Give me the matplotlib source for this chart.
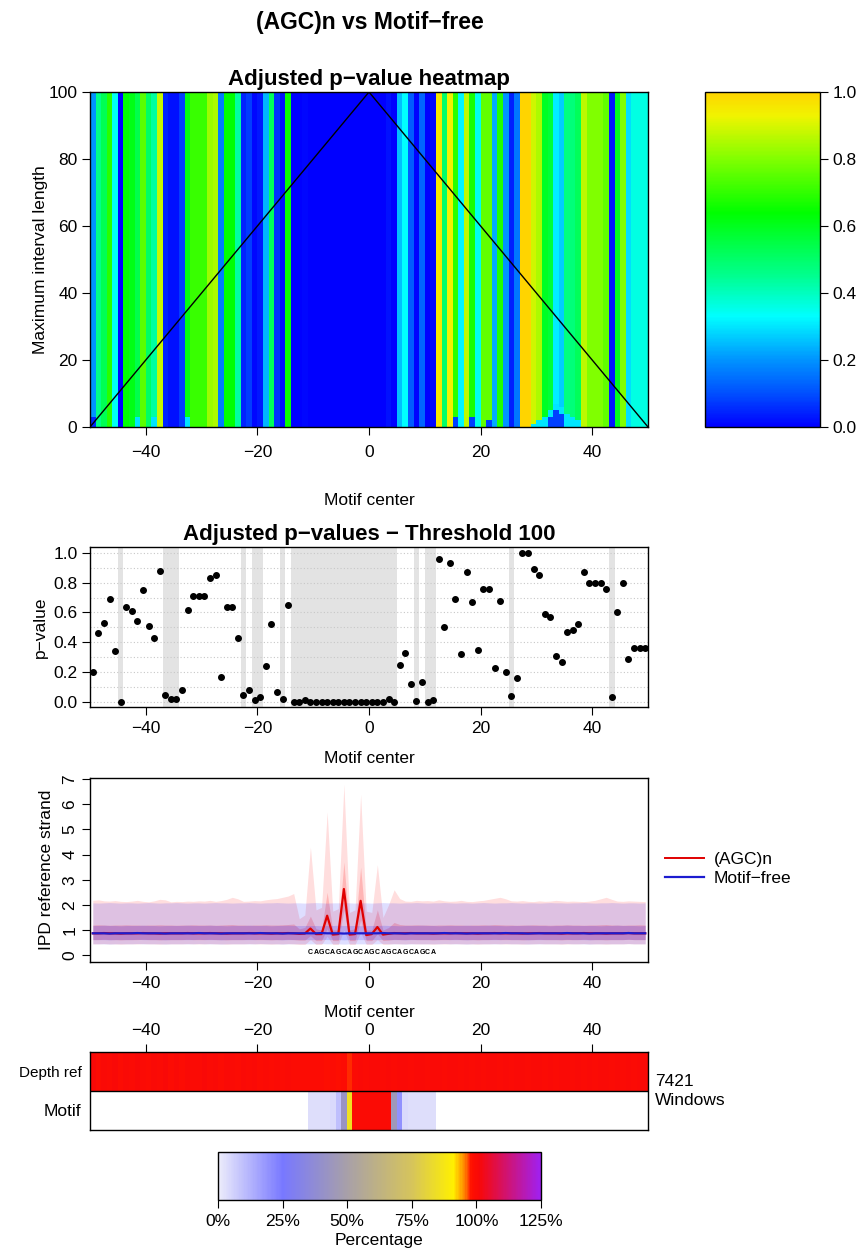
import numpy as np
import matplotlib
matplotlib.use('Agg')
import matplotlib.pyplot as plt
from matplotlib.colors import LinearSegmentedColormap
from matplotlib.lines import Line2D

# ---- DATA ----
# adjusted p-value per motif-center offset, threshold 100 (offsets -49.5 .. 49.5)
pvals = [
    0.20, 0.46, 0.53, 0.69, 0.34, 0.00, 0.64, 0.61, 0.54, 0.75,
    0.51, 0.43, 0.88, 0.045, 0.02, 0.02, 0.076, 0.62, 0.71, 0.71,
    0.71, 0.83, 0.85, 0.165, 0.64, 0.64, 0.43, 0.045, 0.076, 0.01,
    0.03, 0.24, 0.52, 0.065, 0.02, 0.65, 0.00, 0.00, 0.01, 0.00,
    0.00, 0.00, 0.00, 0.00, 0.00, 0.00, 0.00, 0.00, 0.00, 0.00,
    0.00, 0.00, 0.00, 0.02, 0.00, 0.25, 0.33, 0.12, 0.007, 0.13,
    0.00, 0.01, 0.96, 0.50, 0.93, 0.69, 0.32, 0.87, 0.67, 0.35,
    0.76, 0.76, 0.23, 0.68, 0.20, 0.04, 0.16, 1.00, 1.00, 0.89,
    0.85, 0.59, 0.57, 0.31, 0.27, 0.47, 0.48, 0.52, 0.87, 0.80,
    0.80, 0.80, 0.76, 0.03, 0.60, 0.80, 0.29, 0.36, 0.36, 0.36,
]

# short max-interval lengths where the p-value differs from the long ones
low_cols = [0, 8, 11, 17, 65, 68, 71, 79, 80, 81, 82, 83, 84, 85, 86, 87, 82, 83, 84]
low_rows = [3, 3, 3, 3, 3, 3, 2, 1, 2, 3, 5, 7, 6, 4, 3, 2, 3, 5, 4]
low_vals = [0.05, 0.30, 0.30, 0.30, 0.08, 0.08, 0.08, 0.30, 0.30, 0.30, 0.30,
            0.30, 0.30, 0.30, 0.30, 0.30, 0.08, 0.08, 0.08]

# IPD reference strand, (AGC)n windows
agc_hi = [
    2.18, 2.20, 2.16, 2.15, 2.17, 2.14, 2.13, 2.15, 2.18, 2.14,
    2.12, 2.16, 2.22, 2.20, 2.12, 2.14, 2.13, 2.15, 2.14, 2.16,
    2.15, 2.18, 2.14, 2.17, 2.22, 2.30, 2.24, 2.14, 2.15, 2.17,
    2.16, 2.20, 2.23, 2.25, 2.30, 2.35, 2.45, 1.45, 1.60, 4.30,
    1.80, 1.90, 5.70, 1.75, 1.85, 6.80, 1.70, 1.80, 6.40, 1.75,
    1.70, 3.60, 1.50, 2.00, 2.60, 2.25, 2.15, 2.14, 2.18, 2.16,
    2.17, 2.15, 2.20, 2.16, 2.14, 2.15, 2.18, 2.14, 2.13, 2.16,
    2.18, 2.22, 2.26, 2.30, 2.24, 2.16, 2.15, 2.17, 2.14, 2.13,
    2.16, 2.14, 2.15, 2.18, 2.16, 2.14, 2.15, 2.14, 2.13, 2.15,
    2.18, 2.24, 2.30, 2.22, 2.15, 2.14, 2.16, 2.15, 2.14, 2.13,
]
agc_q3 = [
    1.20, 1.21, 1.20, 1.19, 1.20, 1.20, 1.21, 1.20, 1.20, 1.19,
    1.20, 1.20, 1.21, 1.20, 1.20, 1.19, 1.20, 1.20, 1.21, 1.20,
    1.20, 1.20, 1.19, 1.20, 1.21, 1.22, 1.20, 1.20, 1.19, 1.20,
    1.20, 1.21, 1.20, 1.20, 1.21, 1.22, 1.24, 1.05, 1.10, 1.55,
    1.05, 1.00, 2.50, 1.00, 1.00, 3.70, 1.00, 1.05, 3.50, 1.00,
    1.00, 1.80, 1.00, 1.10, 1.30, 1.22, 1.20, 1.20, 1.21, 1.20,
    1.20, 1.19, 1.20, 1.20, 1.21, 1.20, 1.20, 1.19, 1.20, 1.20,
    1.21, 1.20, 1.22, 1.21, 1.20, 1.20, 1.19, 1.20, 1.20, 1.21,
    1.20, 1.20, 1.19, 1.20, 1.20, 1.21, 1.20, 1.20, 1.19, 1.20,
    1.20, 1.21, 1.22, 1.20, 1.20, 1.19, 1.20, 1.20, 1.21, 1.20,
]
agc_med = [
    0.87, 0.87, 0.88, 0.87, 0.87, 0.86, 0.87, 0.87, 0.87, 0.88,
    0.87, 0.87, 0.86, 0.87, 0.87, 0.87, 0.87, 0.88, 0.87, 0.87,
    0.87, 0.88, 0.87, 0.87, 0.86, 0.87, 0.87, 0.87, 0.88, 0.87,
    0.87, 0.87, 0.86, 0.87, 0.87, 0.88, 0.87, 0.85, 0.86, 1.06,
    0.84, 0.84, 1.57, 0.82, 0.84, 2.63, 0.82, 0.84, 2.16, 0.80,
    0.84, 1.12, 0.82, 0.85, 0.88, 0.87, 0.87, 0.88, 0.87, 0.87,
    0.87, 0.86, 0.87, 0.87, 0.87, 0.88, 0.87, 0.87, 0.87, 0.86,
    0.87, 0.87, 0.88, 0.87, 0.87, 0.87, 0.87, 0.86, 0.87, 0.87,
    0.88, 0.87, 0.87, 0.87, 0.86, 0.87, 0.87, 0.87, 0.88, 0.87,
    0.87, 0.87, 0.86, 0.87, 0.87, 0.87, 0.88, 0.87, 0.87, 0.87,
]
agc_q1 = [
    0.62, 0.62, 0.63, 0.62, 0.62, 0.61, 0.62, 0.62, 0.62, 0.63,
    0.62, 0.62, 0.61, 0.62, 0.62, 0.62, 0.62, 0.63, 0.62, 0.62,
    0.62, 0.63, 0.62, 0.62, 0.61, 0.62, 0.62, 0.62, 0.63, 0.62,
    0.62, 0.62, 0.61, 0.62, 0.62, 0.63, 0.62, 0.60, 0.60, 0.78,
    0.58, 0.58, 1.05, 0.58, 0.58, 1.80, 0.58, 0.58, 1.40, 0.58,
    0.58, 0.85, 0.58, 0.60, 0.63, 0.62, 0.62, 0.63, 0.62, 0.62,
    0.62, 0.61, 0.62, 0.62, 0.62, 0.63, 0.62, 0.62, 0.62, 0.61,
    0.62, 0.62, 0.63, 0.62, 0.62, 0.62, 0.62, 0.61, 0.62, 0.62,
    0.63, 0.62, 0.62, 0.62, 0.61, 0.62, 0.62, 0.62, 0.63, 0.62,
    0.62, 0.62, 0.61, 0.62, 0.62, 0.62, 0.63, 0.62, 0.62, 0.62,
]
agc_lo = [
    0.45, 0.45, 0.46, 0.45, 0.45, 0.44, 0.45, 0.45, 0.45, 0.46,
    0.45, 0.45, 0.44, 0.45, 0.45, 0.45, 0.45, 0.46, 0.45, 0.45,
    0.45, 0.46, 0.45, 0.45, 0.44, 0.45, 0.45, 0.45, 0.46, 0.45,
    0.45, 0.45, 0.44, 0.45, 0.45, 0.46, 0.45, 0.43, 0.43, 0.62,
    0.43, 0.43, 0.75, 0.43, 0.43, 1.00, 0.43, 0.43, 0.90, 0.43,
    0.43, 0.62, 0.43, 0.44, 0.46, 0.45, 0.45, 0.46, 0.45, 0.45,
    0.45, 0.44, 0.45, 0.45, 0.45, 0.46, 0.45, 0.45, 0.45, 0.44,
    0.45, 0.45, 0.46, 0.45, 0.45, 0.45, 0.45, 0.44, 0.45, 0.45,
    0.46, 0.45, 0.45, 0.45, 0.44, 0.45, 0.45, 0.45, 0.46, 0.45,
    0.45, 0.45, 0.44, 0.45, 0.45, 0.45, 0.46, 0.45, 0.45, 0.45,
]

# IPD reference strand, motif-free windows
free_hi = [
    2.08, 2.07, 2.08, 2.09, 2.08, 2.07, 2.08, 2.08, 2.07, 2.08,
    2.09, 2.08, 2.07, 2.08, 2.08, 2.09, 2.08, 2.07, 2.08, 2.08,
    2.07, 2.08, 2.09, 2.08, 2.08, 2.07, 2.08, 2.08, 2.09, 2.08,
    2.07, 2.08, 2.08, 2.09, 2.08, 2.07, 2.08, 2.08, 2.07, 2.08,
    2.09, 2.08, 2.07, 2.08, 2.08, 2.09, 2.08, 2.07, 2.08, 2.08,
    2.07, 2.08, 2.09, 2.08, 2.08, 2.07, 2.08, 2.08, 2.09, 2.08,
    2.07, 2.08, 2.08, 2.09, 2.08, 2.07, 2.08, 2.08, 2.07, 2.08,
    2.09, 2.08, 2.07, 2.08, 2.08, 2.09, 2.08, 2.07, 2.08, 2.08,
    2.07, 2.08, 2.09, 2.08, 2.08, 2.07, 2.08, 2.08, 2.09, 2.08,
    2.07, 2.08, 2.08, 2.09, 2.08, 2.07, 2.08, 2.08, 2.07, 2.08,
]
free_q3 = [
    1.18, 1.18, 1.19, 1.18, 1.18, 1.17, 1.18, 1.18, 1.18, 1.19,
    1.18, 1.18, 1.17, 1.18, 1.18, 1.18, 1.18, 1.19, 1.18, 1.18,
    1.18, 1.19, 1.18, 1.18, 1.17, 1.18, 1.18, 1.18, 1.19, 1.18,
    1.18, 1.18, 1.17, 1.18, 1.18, 1.19, 1.18, 1.18, 1.18, 1.18,
    1.18, 1.17, 1.18, 1.18, 1.19, 1.18, 1.18, 1.18, 1.17, 1.18,
    1.18, 1.18, 1.19, 1.18, 1.18, 1.17, 1.18, 1.18, 1.18, 1.19,
    1.18, 1.18, 1.17, 1.18, 1.18, 1.18, 1.18, 1.19, 1.18, 1.18,
    1.18, 1.19, 1.18, 1.18, 1.17, 1.18, 1.18, 1.18, 1.19, 1.18,
    1.18, 1.18, 1.17, 1.18, 1.18, 1.19, 1.18, 1.18, 1.18, 1.18,
    1.18, 1.17, 1.18, 1.18, 1.19, 1.18, 1.18, 1.18, 1.17, 1.18,
]
free_med = [
    0.87, 0.87, 0.87, 0.86, 0.87, 0.87, 0.87, 0.87, 0.88, 0.87,
    0.87, 0.87, 0.87, 0.86, 0.87, 0.87, 0.87, 0.87, 0.87, 0.88,
    0.87, 0.87, 0.87, 0.86, 0.87, 0.87, 0.87, 0.87, 0.87, 0.87,
    0.88, 0.87, 0.87, 0.87, 0.86, 0.87, 0.87, 0.87, 0.87, 0.87,
    0.87, 0.88, 0.87, 0.87, 0.87, 0.86, 0.87, 0.87, 0.87, 0.87,
    0.87, 0.87, 0.88, 0.87, 0.87, 0.87, 0.86, 0.87, 0.87, 0.87,
    0.87, 0.87, 0.87, 0.88, 0.87, 0.87, 0.87, 0.86, 0.87, 0.87,
    0.87, 0.87, 0.87, 0.87, 0.88, 0.87, 0.87, 0.87, 0.86, 0.87,
    0.87, 0.87, 0.87, 0.87, 0.87, 0.88, 0.87, 0.87, 0.87, 0.86,
    0.87, 0.87, 0.87, 0.87, 0.87, 0.87, 0.88, 0.87, 0.87, 0.87,
]
free_q1 = [
    0.62, 0.62, 0.62, 0.61, 0.62, 0.62, 0.62, 0.62, 0.63, 0.62,
    0.62, 0.62, 0.62, 0.61, 0.62, 0.62, 0.62, 0.62, 0.62, 0.63,
    0.62, 0.62, 0.62, 0.61, 0.62, 0.62, 0.62, 0.62, 0.62, 0.62,
    0.63, 0.62, 0.62, 0.62, 0.61, 0.62, 0.62, 0.62, 0.62, 0.62,
    0.62, 0.63, 0.62, 0.62, 0.62, 0.61, 0.62, 0.62, 0.62, 0.62,
    0.62, 0.62, 0.63, 0.62, 0.62, 0.62, 0.61, 0.62, 0.62, 0.62,
    0.62, 0.62, 0.62, 0.63, 0.62, 0.62, 0.62, 0.61, 0.62, 0.62,
    0.62, 0.62, 0.62, 0.62, 0.63, 0.62, 0.62, 0.62, 0.61, 0.62,
    0.62, 0.62, 0.62, 0.62, 0.62, 0.63, 0.62, 0.62, 0.62, 0.61,
    0.62, 0.62, 0.62, 0.62, 0.62, 0.62, 0.63, 0.62, 0.62, 0.62,
]
free_lo = [
    0.45, 0.45, 0.45, 0.44, 0.45, 0.45, 0.45, 0.45, 0.46, 0.45,
    0.45, 0.45, 0.45, 0.44, 0.45, 0.45, 0.45, 0.45, 0.45, 0.46,
    0.45, 0.45, 0.45, 0.44, 0.45, 0.45, 0.45, 0.45, 0.45, 0.45,
    0.46, 0.45, 0.45, 0.45, 0.44, 0.45, 0.45, 0.45, 0.45, 0.45,
    0.45, 0.46, 0.45, 0.45, 0.45, 0.44, 0.45, 0.45, 0.45, 0.45,
    0.45, 0.45, 0.46, 0.45, 0.45, 0.45, 0.44, 0.45, 0.45, 0.45,
    0.45, 0.45, 0.45, 0.46, 0.45, 0.45, 0.45, 0.44, 0.45, 0.45,
    0.45, 0.45, 0.45, 0.45, 0.46, 0.45, 0.45, 0.45, 0.44, 0.45,
    0.45, 0.45, 0.45, 0.45, 0.45, 0.46, 0.45, 0.45, 0.45, 0.44,
    0.45, 0.45, 0.45, 0.45, 0.45, 0.45, 0.46, 0.45, 0.45, 0.45,
]

# coverage (%) per offset; 0 in motif row = no motif there
depth_pct = [
    100.6, 99.6, 100.4, 99.8, 100.7, 99.5, 100.2, 99.7, 100.6, 99.9,
    99.6, 100.5, 99.8, 100.6, 99.6, 100.2, 99.5, 100.5, 99.9, 99.7,
    100.6, 99.8, 100.2, 99.6, 100.4, 99.9, 99.4, 100.2, 99.8, 100.5,
    99.5, 99.9, 99.4, 99.8, 99.3, 99.7, 99.2, 99.6, 99.3, 99.5,
    99.2, 99.4, 99.1, 99.3, 99.0, 99.2, 97.3, 100.0, 100.2, 100.0,
    100.3, 100.1, 100.0, 100.2, 100.0, 100.1, 100.3, 100.0, 100.2, 100.1,
    100.0, 100.2, 100.1, 100.0, 100.3, 100.1, 100.0, 100.2, 100.0, 100.1,
    100.0, 100.2, 100.1, 100.0, 100.2, 100.0, 100.1, 100.3, 100.0, 100.1,
    100.2, 100.0, 100.1, 100.0, 100.2, 100.1, 100.0, 100.2, 100.0, 100.1,
    100.0, 100.2, 100.1, 100.0, 100.2, 100.0, 100.1, 100.0, 100.2, 100.1,
]
motif_pct = [
    0, 0, 0, 0, 0, 0, 0, 0, 0, 0,
    0, 0, 0, 0, 0, 0, 0, 0, 0, 0,
    0, 0, 0, 0, 0, 0, 0, 0, 0, 0,
    0, 0, 0, 0, 0, 0, 0, 0, 0, 3,
    3, 3, 3, 4, 10, 42, 85, 100, 100, 100,
    100, 100, 100, 100, 45, 20, 4, 3, 3, 3,
    3, 3, 0, 0, 0, 0, 0, 0, 0, 0,
    0, 0, 0, 0, 0, 0, 0, 0, 0, 0,
    0, 0, 0, 0, 0, 0, 0, 0, 0, 0,
    0, 0, 0, 0, 0, 0, 0, 0, 0, 0,
]
motif_seq = 'CAGCAGCAGCAGCAGCAGCAGCA'
motif_first = 39          # index of the first motif base
n_windows = 7421

# ---- STYLE ----
plt.rcParams['font.family'] = ['Liberation Sans', 'DejaVu Sans']
plt.rcParams['font.size'] = 12.5
plt.rcParams['axes.linewidth'] = 1.0
plt.rcParams['xtick.major.size'] = 6
plt.rcParams['ytick.major.size'] = 6
plt.rcParams['xtick.major.pad'] = 4
plt.rcParams['ytick.major.pad'] = 3

pv_cmap = LinearSegmentedColormap.from_list('pv', [
    (0.0, '#0000ff'), (0.1, '#0050ff'), (0.2, '#0094ff'), (0.33, '#00ffff'),
    (0.45, '#00ff90'), (0.64, '#00ff00'), (0.8, '#80ff00'), (0.93, '#f0f400'),
    (1.0, '#ffd400')])
pct_cmap = LinearSegmentedColormap.from_list('pct', [
    (0.0, '#ececfb'), (0.2, '#7878ff'), (0.4, '#a8a0a8'), (0.6, '#d6c45c'),
    (0.73, '#fff000'), (0.765, '#ff8000'), (0.785, '#ff1000'), (0.81, '#f80808'),
    (1.0, '#a020f0')])

positions = np.arange(-49.5, 50, 1.0)
edges = np.arange(-50, 51)
pv = np.array(pvals)

W, H = 864, 1256
fig = plt.figure(figsize=(W / 100, H / 100), dpi=100)


def box(left, top, right, bottom):
    return [left / W, 1 - bottom / H, (right - left) / W, (bottom - top) / H]


fig.text(370 / W, 1 - 22 / H, '(AGC)n vs Motif\u2212free', ha='center', va='center',
         fontsize=16.5, fontweight='bold')

# ---- p-value heatmap ----
ax_hm = fig.add_axes(box(90, 92, 648, 427))
grid = np.tile(pv, (100, 1))
for c, h, v in zip(low_cols, low_rows, low_vals):
    grid[:h, c] = v
mesh = ax_hm.pcolormesh(edges, np.arange(0, 101), grid, cmap=pv_cmap, vmin=0, vmax=1)
ax_hm.plot(edges, 100 - 2 * np.abs(edges), color='black', lw=1)
ax_hm.set_xlim(-50, 50)
ax_hm.set_ylim(0, 100)
ax_hm.set_xticks([-40, -20, 0, 20, 40])
ax_hm.set_yticks([0, 20, 40, 60, 80, 100])
ax_hm.tick_params(axis='x', pad=7)
ax_hm.set_title('Adjusted p\u2212value heatmap', fontsize=16, fontweight='bold', pad=5)
ax_hm.set_xlabel('Motif center', labelpad=24)
ax_hm.set_ylabel('Maximum interval length', labelpad=0)

cax = fig.add_axes(box(705, 92, 820, 427))
cb = fig.colorbar(mesh, cax=cax, ticks=[0, 0.2, 0.4, 0.6, 0.8, 1.0])
cb.ax.set_yticklabels(['0.0', '0.2', '0.4', '0.6', '0.8', '1.0'])
cb.outline.set_linewidth(1)
cb.ax.tick_params(length=6, pad=3)

# ---- p-values at threshold 100 ----
ax_pv = fig.add_axes(box(90, 547, 648, 707))
for x, p in zip(positions, pv):
    if p < 0.05:
        ax_pv.axvspan(x - 0.5, x + 0.5, color='#e3e3e3', lw=0, zorder=0)
for level in np.arange(0, 1.01, 0.1):
    ax_pv.axhline(level, color='#c8c8c8', lw=0.8, ls=(0, (1, 2)), zorder=1)
ax_pv.scatter(positions, pv, s=16, color='black', zorder=3)
ax_pv.set_xlim(-50, 50)
ax_pv.set_ylim(-0.035, 1.04)
ax_pv.set_xticks([-40, -20, 0, 20, 40])
ax_pv.set_yticks([0, 0.2, 0.4, 0.6, 0.8, 1.0])
ax_pv.set_yticklabels(['0.0', '0.2', '0.4', '0.6', '0.8', '1.0'])
ax_pv.set_title('Adjusted p\u2212values \u2212 Threshold 100', fontsize=16,
                fontweight='bold', pad=5)
ax_pv.set_xlabel('Motif center', labelpad=11)
ax_pv.set_ylabel('p\u2212value', labelpad=4)

# ---- IPD profile ----
ax_ipd = fig.add_axes(box(90, 778, 648, 962))
ax_ipd.fill_between(positions, agc_lo, agc_hi, color='red', alpha=0.13, lw=0)
ax_ipd.fill_between(positions, agc_q1, agc_q3, color='red', alpha=0.18, lw=0)
ax_ipd.fill_between(positions, free_lo, free_hi, color='blue', alpha=0.13, lw=0)
ax_ipd.fill_between(positions, free_q1, free_q3, color='blue', alpha=0.15, lw=0)
ax_ipd.plot(positions, agc_med, color='#e00000', lw=1.6)
ax_ipd.plot(positions, free_med, color='#1c1cd0', lw=1.6)
for i, base in enumerate(motif_seq):
    ax_ipd.text(positions[motif_first + i], 0.12, base, fontsize=5, ha='center',
                va='center', fontweight='bold')
ax_ipd.set_xlim(-50, 50)
ax_ipd.set_ylim(-0.27, 7.04)
ax_ipd.set_xticks([-40, -20, 0, 20, 40])
ax_ipd.set_yticks(range(8))
ax_ipd.tick_params(axis='y', labelrotation=90)
for lab in ax_ipd.get_yticklabels():
    lab.set_va('center')
ax_ipd.set_xlabel('Motif center', labelpad=10)
ax_ipd.set_ylabel('IPD reference strand', labelpad=6)
handles = [Line2D([], [], color='#e00000', lw=1.4), Line2D([], [], color='#1c1cd0', lw=1.6)]
ax_ipd.legend(handles, ['(AGC)n', 'Motif\u2212free'], loc='center left',
              bbox_to_anchor=(1.0, 0.505), frameon=False, handlelength=2.2,
              handletextpad=0.6, labelspacing=0.2, borderaxespad=0.6)

# ---- depth / motif coverage ----
ax_dp = fig.add_axes(box(90, 1052, 648, 1130))
rows = np.ma.masked_equal(np.vstack([motif_pct, depth_pct]).astype(float), 0)
cov = ax_dp.pcolormesh(edges, [0, 1, 2], rows, cmap=pct_cmap, vmin=0, vmax=125)
ax_dp.axhline(1, color='black', lw=1)
ax_dp.set_xlim(-50, 50)
ax_dp.set_ylim(0, 2)
ax_dp.xaxis.tick_top()
ax_dp.set_xticks([-40, -20, 0, 20, 40])
ax_dp.set_yticks([0.5, 1.5])
ax_dp.set_yticklabels(['Motif', 'Depth ref'])
ax_dp.get_yticklabels()[1].set_fontsize(11)
ax_dp.tick_params(axis='y', length=0, pad=6)
ax_dp.text(1.012, 0.5, f'{n_windows}\nWindows', transform=ax_dp.transAxes,
           ha='left', va='center', linespacing=1.35)

pax = fig.add_axes(box(218, 1152, 541, 1200))
pcb = fig.colorbar(cov, cax=pax, orientation='horizontal', ticks=[0, 25, 50, 75, 100, 125])
pcb.ax.set_xticklabels(['0%', '25%', '50%', '75%', '100%', '125%'])
pcb.outline.set_linewidth(1)
pcb.ax.tick_params(length=6, pad=4)
pcb.set_label('Percentage', labelpad=3)

fig.savefig('out.png', dpi=100)
